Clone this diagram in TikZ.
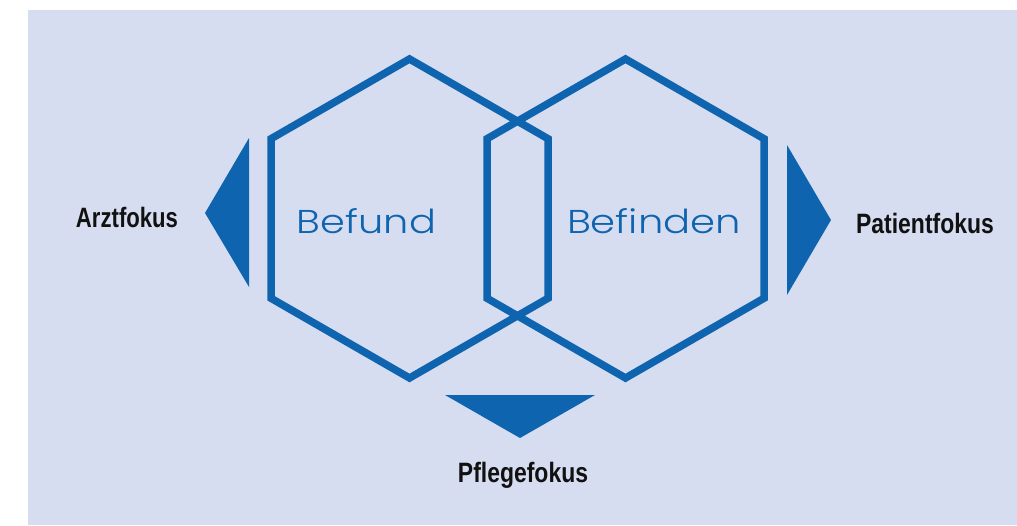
\documentclass[tikz,border=0pt]{standalone}
\usepackage{fontspec}
\setmainfont{Liberation Sans}
\newfontfamily\hexfont{Poppins Light}
\definecolor{panel}{HTML}{D6DDF0}
\definecolor{deepblue}{HTML}{0F64AF}
\definecolor{ink}{HTML}{111111}
\tikzset{
  hexline/.style={draw=deepblue, line width=7.5pt, line join=miter},
  pointer/.style={fill=deepblue, draw=none},
  focuslabel/.style={anchor=base, inner sep=0pt, text=ink,
    font=\fontsize{28}{30}\selectfont\bfseries},
  hexlabel/.style={anchor=base, inner sep=0pt, text=deepblue}
}
\begin{document}
\begin{tikzpicture}[x=1pt,y=-1pt]
  \useasboundingbox (0,0) rectangle (1017,525);
  % light panel behind everything
  \fill[panel] (28,10) rectangle (1017,525);

  % two overlapping hexagons (pointy top, radius 159.5)
  \draw[hexline] (409.5,59) -- (548,138.75) -- (548,298.25) -- (409.5,378)
    -- (271,298.25) -- (271,138.75) -- cycle;
  \draw[hexline] (625.5,59) -- (764,138.75) -- (764,298.25) -- (625.5,378)
    -- (487,298.25) -- (487,138.75) -- cycle;

  % direction pointers
  \fill[pointer] (249,138) -- (249,287) -- (205,213) -- cycle;
  \fill[pointer] (787,145) -- (787,295) -- (831,220) -- cycle;
  \fill[pointer] (445,395) -- (595,395) -- (520,438) -- cycle;

  % hexagon captions
  \node[hexlabel] (befund) at (366.5,233)
    {\resizebox{139pt}{25pt}{\hexfont Befund}};
  \node[hexlabel] (befinden) at (654,233)
    {\resizebox{174pt}{25pt}{\hexfont Befinden}};

  % focus captions
  \node[focuslabel] (arzt) at (127,227) {\scalebox{0.79}[1]{Arztfokus}};
  \node[focuslabel] (patient) at (925,233) {\scalebox{0.82}[1]{Patientfokus}};
  \node[focuslabel] (pflege) at (523,482) {\scalebox{0.82}[1]{Pflegefokus}};
\end{tikzpicture}
\end{document}
